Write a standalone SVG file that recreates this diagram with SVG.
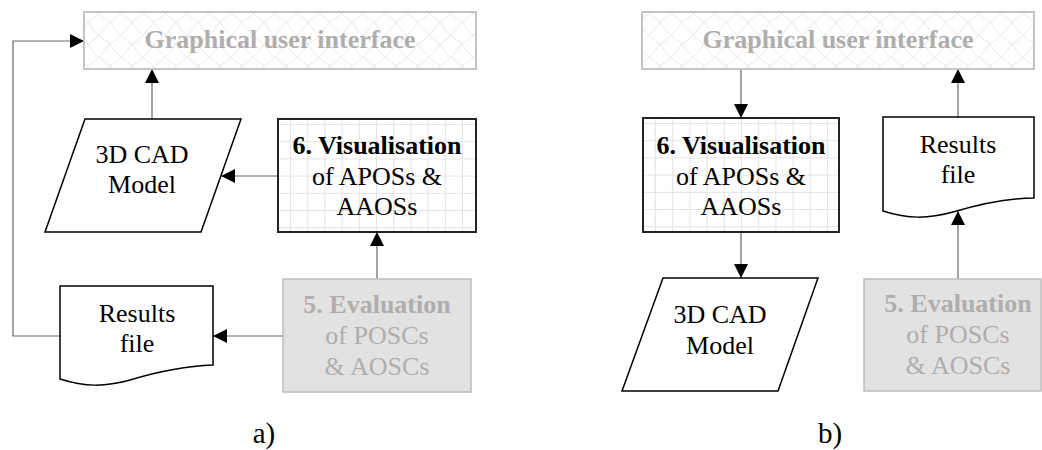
<svg xmlns="http://www.w3.org/2000/svg" width="1042" height="450" viewBox="0 0 1042 450" font-family="Liberation Serif, serif">
<style>
  text { font-family: 'Liberation Serif', 'Tinos', 'DejaVu Serif', serif; font-size: 26px; text-anchor: middle; }
  .b { font-weight: bold; }
  .dark { fill: #000; }
  .grey { fill: #b0adad; }
  .gui { fill: url(#hatch); stroke: #c4c4c4; stroke-width: 2; }
  .vis { fill: url(#grid); stroke: #222; stroke-width: 2; }
  .eval { fill: #e2e2e2; stroke: #bdbdbd; stroke-width: 1.5; }
  .io { fill: #fff; stroke: #000; stroke-width: 1.5; }
  .conn { fill: none; stroke: #666; stroke-width: 1.2; marker-end: url(#arr); }
  .lbl { font-size: 29px; }
</style>
<defs>
  <marker id="arr" markerUnits="userSpaceOnUse" markerWidth="15" markerHeight="15" refX="14" refY="7" orient="auto">
    <path d="M0,0 L14,7 L0,14 z" fill="#000"/>
  </marker>
  <pattern id="grid" patternUnits="userSpaceOnUse" x="-4.2" y="-11.2" width="17.2" height="17.2">
    <rect width="17.2" height="17.2" fill="#fff"/>
    <path d="M17.2,0 V17.2 M0,17.2 H17.2" stroke="#e3e3e3" stroke-width="2" fill="none"/>
  </pattern>
  <pattern id="hatch" patternUnits="userSpaceOnUse" width="22" height="22">
    <rect width="22" height="22" fill="#fff"/>
    <path d="M0,22 Q11,16 22,0 M0,0 Q6,11 22,22" stroke="#e9e9e9" stroke-width="1" fill="none"/>
  </pattern>
</defs>

<g id="connectors">
  <path class="conn" d="M152,119 V69"/>
  <path class="conn" d="M278,176 H221"/>
  <path class="conn" d="M377,279 V232"/>
  <path class="conn" d="M283,336 H213"/>
  <path class="conn" d="M60,336 H13 V41 H84"/>
  <path class="conn" d="M741,69 V118"/>
  <path class="conn" d="M741,232 V278"/>
  <path class="conn" d="M958,117 V69"/>
  <path class="conn" d="M958,279 V211"/>
</g>

<g id="gui-a">
  <rect class="gui" x="84" y="12" width="392" height="57"/>
  <text class="b grey" x="280" y="48">Graphical user interface</text>
</g>
<g id="cad-a">
  <polygon class="io" points="85,119 241,119 201,232 45,232"/>
  <text class="dark" x="142" y="163">3D CAD</text>
  <text class="dark" x="142" y="193">Model</text>
</g>
<g id="vis-a" transform="translate(278,119)">
  <rect class="vis" x="0" y="0" width="198" height="113"/>
  <text class="b dark" x="99" y="35">6. Visualisation</text>
  <text class="dark" x="99" y="66">of APOSs &amp;</text>
  <text class="dark" x="99" y="96">AAOSs</text>
</g>
<g id="eval-a">
  <rect class="eval" x="283" y="279" width="188" height="113"/>
  <text class="b grey" x="377" y="313">5. Evaluation</text>
  <text class="grey" x="377" y="344">of POSCs</text>
  <text class="grey" x="377" y="375">&amp; AOSCs</text>
</g>
<g id="results-a">
  <path class="io" d="M60,286 H213 V365 C185,366 160,371 130,380 C105,387 85,387 60,379 Z"/>
  <text class="dark" x="137" y="322">Results</text>
  <text class="dark" x="137" y="352">file</text>
</g>
<text id="label-a" class="lbl dark" x="264" y="443">a)</text>

<g id="gui-b">
  <rect class="gui" x="642" y="12" width="392" height="57"/>
  <text class="b grey" x="838" y="48">Graphical user interface</text>
</g>
<g id="vis-b" transform="translate(643,118)">
  <rect class="vis" x="0" y="0" width="196" height="114"/>
  <text class="b dark" x="98" y="36">6. Visualisation</text>
  <text class="dark" x="98" y="67">of APOSs &amp;</text>
  <text class="dark" x="98" y="97">AAOSs</text>
</g>
<g id="cad-b">
  <polygon class="io" points="663,278 818,278 778,391 622,391"/>
  <text class="dark" x="720" y="323">3D CAD</text>
  <text class="dark" x="720" y="354">Model</text>
</g>
<g id="results-b">
  <path class="io" d="M883,117 H1034 V198 C1008,198 983,203 953,212 C928,219 908,219 883,211 Z"/>
  <text class="dark" x="958" y="153">Results</text>
  <text class="dark" x="958" y="183">file</text>
</g>
<g id="eval-b">
  <rect class="eval" x="864" y="279" width="177" height="112"/>
  <text class="b grey" x="958" y="312">5. Evaluation</text>
  <text class="grey" x="958" y="343">of POSCs</text>
  <text class="grey" x="958" y="374">&amp; AOSCs</text>
</g>
<text id="label-b" class="lbl dark" x="830" y="443">b)</text>
</svg>
